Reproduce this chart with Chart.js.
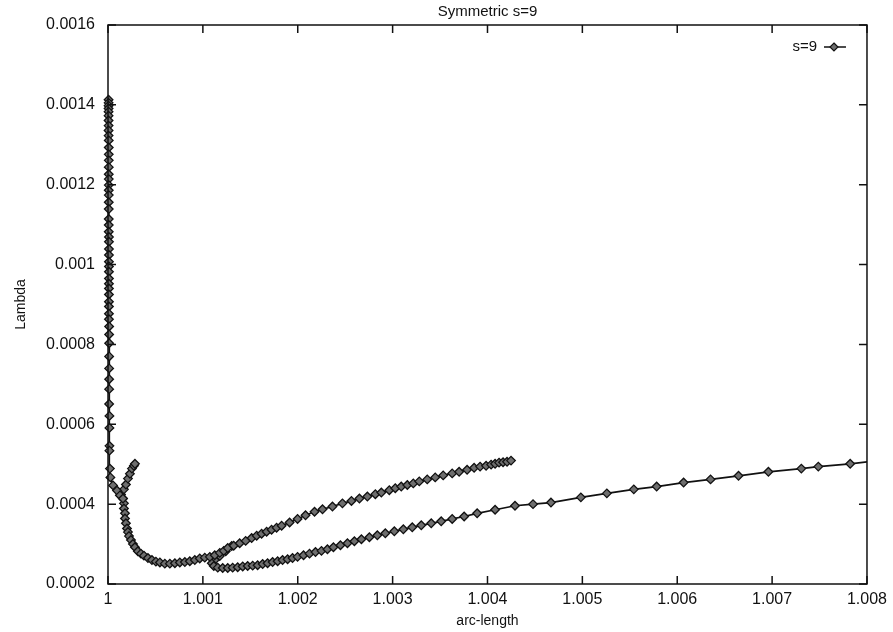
<!DOCTYPE html>
<html>
<head>
<meta charset="utf-8">
<script src="https://cdn.jsdelivr.net/npm/chart.js@4"></script>
<style>
  body { margin: 0; background: #fff; }
  canvas { display: block; }
</style>
</head>
<body>
<canvas id="chart" width="893" height="632"></canvas>
<script>
// arc-length / Lambda pairs, one array pair per arm of the curve
const descentArc = [
  1.000006, 1.000006, 1.000006, 1.000006, 1.000006, 1.000006, 1.000006, 1.000006, 1.000006, 1.000006,
  1.000008, 1.000008, 1.000008, 1.000008, 1.000008, 1.000008, 1.000008, 1.000008, 1.000008, 1.000008,
  1.000008, 1.000008, 1.000008, 1.000008, 1.000008,
  1.00001, 1.00001, 1.00001, 1.00001, 1.00001, 1.00001, 1.00001, 1.00001, 1.00001, 1.00001,
  1.00001, 1.00001, 1.00001, 1.00001, 1.00001,
  1.000012, 1.000012, 1.000012, 1.000012, 1.000012, 1.000012, 1.000012, 1.000012,
  1.000015, 1.000015, 1.000015, 1.000015, 1.00002, 1.000025, 1.000053, 1.000095, 1.000126, 1.000158
];
const descentLambda = [
  0.001413, 0.001405, 0.001398, 0.001391, 0.001383, 0.001373, 0.001361, 0.001348, 0.001336, 0.001323,
  0.001311, 0.001293, 0.001276, 0.001261, 0.001244, 0.001226, 0.001214, 0.001199, 0.001186, 0.001174,
  0.001156, 0.001139, 0.001114, 0.001099, 0.001082,
  0.001069, 0.001057, 0.001039, 0.001024, 0.001007, 0.000995, 0.000982, 0.000965, 0.000952, 0.000940,
  0.000925, 0.000907, 0.000895, 0.000877, 0.000863,
  0.000845, 0.000825, 0.000803, 0.000770, 0.000740, 0.000713, 0.000688, 0.000651,
  0.000621, 0.000591, 0.000546, 0.000534, 0.000489, 0.000467, 0.000447, 0.000434, 0.000422, 0.000414
];

const spurArc = [1.000126, 1.000137, 1.000168, 1.000189, 1.00021, 1.000231, 1.000252, 1.000273, 1.000284];
const spurLambda = [0.000422, 0.000424, 0.000437, 0.000449, 0.000464, 0.000476, 0.000489, 0.000496, 0.000501];

const upperArc = [
  1.000158, 1.000168, 1.000168, 1.000179, 1.000179, 1.000189, 1.0002, 1.00021, 1.000221, 1.000242,
  1.000263, 1.000284, 1.000315, 1.000347, 1.000379, 1.000421, 1.000463, 1.000505, 1.000547, 1.000599,
  1.000652, 1.000705, 1.000757, 1.00081, 1.000862, 1.000915, 1.000967, 1.00102, 1.001073, 1.001125,
  1.001178, 1.00122, 1.001262, 1.001325, 1.001388, 1.001451, 1.001514, 1.001567, 1.001619, 1.001672,
  1.001724, 1.001777, 1.00183, 1.001914, 1.001998, 1.002082, 1.002177, 1.002261, 1.002366, 1.002471,
  1.002566, 1.00265, 1.002734, 1.002818, 1.002881, 1.002965, 1.003028, 1.003091, 1.003155, 1.003218,
  1.003281, 1.003365, 1.003449, 1.003533, 1.003628, 1.003701, 1.003785, 1.003859, 1.003922, 1.003985,
  1.004038, 1.00408, 1.004122, 1.004164, 1.004206, 1.004248
];
const upperLambda = [
  0.000414, 0.000402, 0.000389, 0.000377, 0.000364, 0.000352, 0.000339, 0.00033, 0.00032, 0.00031,
  0.0003, 0.000292, 0.000282, 0.000276, 0.000271, 0.000265, 0.00026, 0.000256, 0.000254, 0.000251,
  0.000251, 0.000252, 0.000254, 0.000255, 0.000257, 0.00026, 0.000264, 0.000266, 0.000268, 0.000272,
  0.000278, 0.000283, 0.00029, 0.000296, 0.000302, 0.000308, 0.000315, 0.000321, 0.000326, 0.000331,
  0.000336, 0.000341, 0.000346, 0.000354, 0.000363, 0.000372, 0.000381, 0.000387, 0.000394, 0.000402,
  0.000408, 0.000414, 0.000419, 0.000425, 0.000429, 0.000435, 0.00044, 0.000444, 0.000448, 0.000452,
  0.000457, 0.000462, 0.000467, 0.000472, 0.000477, 0.000481, 0.000486, 0.000491, 0.000494, 0.000496,
  0.000499, 0.000501, 0.000504, 0.000505, 0.000506, 0.000509
];

const lowerArc = [
  1.001304, 1.001241, 1.001178, 1.001125, 1.001094, 1.001115, 1.001157, 1.001209, 1.001262, 1.001314,
  1.001367, 1.00142, 1.001472, 1.001525, 1.001577, 1.00163, 1.001682, 1.001735, 1.001788, 1.00184,
  1.001893, 1.001945, 1.001998, 1.002061, 1.002124, 1.002187, 1.00225, 1.002313, 1.002376, 1.00245,
  1.002524, 1.002597, 1.002671, 1.002755, 1.002839, 1.002923, 1.003018, 1.003113, 1.003207, 1.003302,
  1.003407, 1.003512, 1.003628, 1.003754, 1.003891, 1.00408, 1.00429, 1.00448, 1.004669, 1.004984,
  1.005258, 1.005542, 1.005783, 1.006067, 1.006351, 1.006646, 1.006961, 1.007308, 1.007487, 1.007823,
  1.00817
];
const lowerLambda = [
  0.000295, 0.000282, 0.00027, 0.00026, 0.000252, 0.000245, 0.000241, 0.00024, 0.00024, 0.000241,
  0.000242, 0.000244, 0.000245, 0.000246, 0.000247, 0.00025, 0.000252, 0.000255, 0.000257, 0.00026,
  0.000262, 0.000265, 0.000268, 0.000272, 0.000276, 0.00028, 0.000283, 0.000287, 0.000292, 0.000297,
  0.000302, 0.000307, 0.000312, 0.000317, 0.000322, 0.000327, 0.000332, 0.000337, 0.000342, 0.000347,
  0.000352, 0.000357, 0.000363, 0.000369, 0.000377, 0.000386, 0.000396, 0.0004, 0.000404, 0.000417,
  0.000427, 0.000437, 0.000444, 0.000454, 0.000462, 0.000471, 0.000481, 0.000489, 0.000494, 0.000501,
  0.00051
];

const xTickValues = [1, 1.001, 1.002, 1.003, 1.004, 1.005, 1.006, 1.007, 1.008];
const xTickLabels = ['1', '1.001', '1.002', '1.003', '1.004', '1.005', '1.006', '1.007', '1.008'];
const yTickValues = [0.0002, 0.0004, 0.0006, 0.0008, 0.001, 0.0012, 0.0014, 0.0016];
const yTickLabels = ['0.0002', '0.0004', '0.0006', '0.0008', '0.001', '0.0012', '0.0014', '0.0016'];

const seriesName = 's=9';
const ink = '#111';
const markFill = '#6e6e6e';

Chart.defaults.font.family = '"Liberation Sans", Arial, sans-serif';
Chart.defaults.color = ink;

const pts = (xs, ys) => xs.map((x, i) => ({ x: x, y: ys[i] }));

const arm = (xs, ys) => ({
  label: seriesName,
  data: pts(xs, ys),
  showLine: true,
  borderColor: ink,
  borderWidth: 1.7,
  pointStyle: 'rectRot',
  pointRadius: 4.3,
  pointBackgroundColor: markFill,
  pointBorderColor: ink,
  pointBorderWidth: 1.3,
  clip: { left: 6, top: 6, right: 0, bottom: 6 }
});

// gnuplot style frame: box, inward ticks on all sides, legend inside top right
const frame = {
  id: 'frame',
  afterDraw(chart) {
    const { ctx, chartArea: a, scales: { x, y } } = chart;
    ctx.save();
    ctx.strokeStyle = ink;
    ctx.lineWidth = 1.5;
    ctx.strokeRect(a.left, a.top, a.width, a.height);
    ctx.beginPath();
    x.ticks.forEach(t => {
      const px = x.getPixelForValue(t.value);
      ctx.moveTo(px, a.bottom); ctx.lineTo(px, a.bottom - 8);
      ctx.moveTo(px, a.top); ctx.lineTo(px, a.top + 8);
    });
    y.ticks.forEach(t => {
      const py = y.getPixelForValue(t.value);
      ctx.moveTo(a.left, py); ctx.lineTo(a.left + 8, py);
      ctx.moveTo(a.right, py); ctx.lineTo(a.right - 8, py);
    });
    ctx.stroke();

    const ly = a.top + 22;
    ctx.fillStyle = ink;
    ctx.font = '15px "Liberation Sans", Arial, sans-serif';
    ctx.textAlign = 'right';
    ctx.textBaseline = 'middle';
    ctx.fillText(seriesName, a.right - 50, ly);
    ctx.lineWidth = 1.5;
    ctx.beginPath();
    ctx.moveTo(a.right - 43, ly); ctx.lineTo(a.right - 21, ly);
    ctx.stroke();
    const cx = a.right - 33;
    ctx.beginPath();
    ctx.moveTo(cx, ly - 4); ctx.lineTo(cx + 4, ly); ctx.lineTo(cx, ly + 4); ctx.lineTo(cx - 4, ly);
    ctx.closePath();
    ctx.fillStyle = markFill;
    ctx.fill();
    ctx.lineWidth = 1.2;
    ctx.stroke();
    ctx.restore();
  }
};

new Chart(document.getElementById('chart'), {
  type: 'scatter',
  data: {
    datasets: [
      arm(descentArc, descentLambda),
      arm(spurArc, spurLambda),
      arm(upperArc, upperLambda),
      arm(lowerArc, lowerLambda)
    ]
  },
  options: {
    responsive: false,
    animation: false,
    layout: { padding: { left: 8, right: 21, top: 0, bottom: 0 } },
    plugins: {
      legend: { display: false },
      tooltip: { enabled: false },
      title: {
        display: true,
        text: 'Symmetric s=9',
        fullSize: false,
        font: { size: 15, weight: 'normal' },
        padding: { top: 3, bottom: 4 }
      }
    },
    scales: {
      x: {
        type: 'linear',
        min: 1,
        max: 1.008,
        afterBuildTicks: s => { s.ticks = xTickValues.map(v => ({ value: v })); },
        afterFit: s => { s.height = 48; },
        grid: { display: false, drawTicks: false },
        border: { display: false },
        ticks: { font: { size: 16 }, padding: 6, maxRotation: 0, callback: (v, i) => xTickLabels[i] },
        title: { display: true, text: 'arc-length', font: { size: 14 }, padding: { top: 0, bottom: 2 } }
      },
      y: {
        type: 'linear',
        min: 0.0002,
        max: 0.0016,
        afterBuildTicks: s => { s.ticks = yTickValues.map(v => ({ value: v })); },
        afterFit: s => { s.width = 100; },
        grid: { display: false, drawTicks: false },
        border: { display: false },
        ticks: { font: { size: 16 }, padding: 13, callback: (v, i) => yTickLabels[i] },
        title: { display: true, text: 'Lambda', font: { size: 14 }, padding: { top: 5, bottom: 0 } }
      }
    }
  },
  plugins: [frame]
});
</script>
</body>
</html>
